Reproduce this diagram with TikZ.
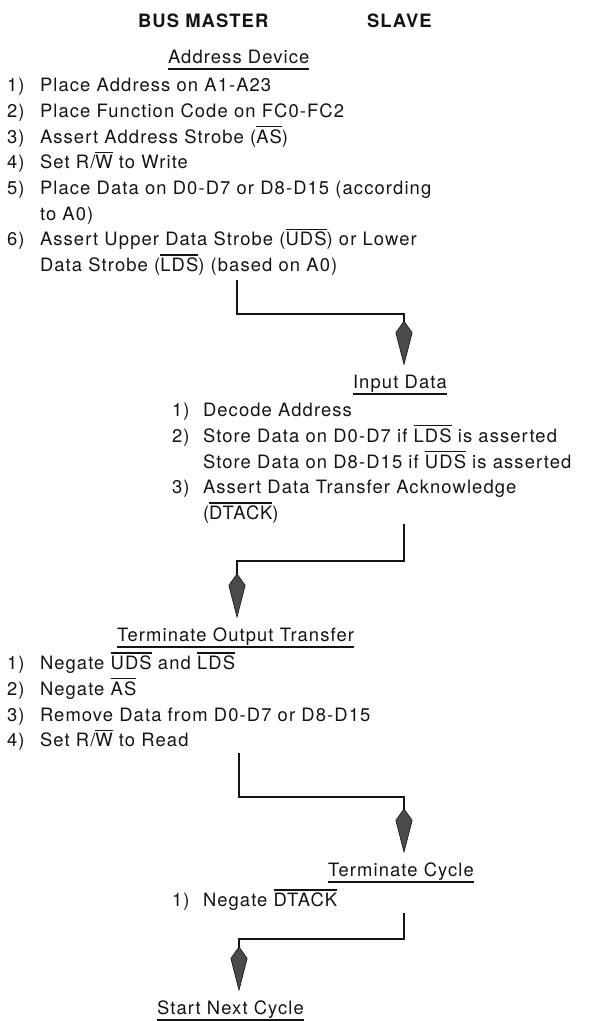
\documentclass[tikz,border=0pt]{standalone}
\usepackage{fontspec}
\setmainfont{TeX Gyre Heros}[LetterSpace=6]
\usetikzlibrary{arrows.meta}
\definecolor{ink}{HTML}{141414}
\definecolor{headfill}{HTML}{4A4A4A}
\newcommand{\ovb}[1]{\leavevmode\setbox0=\hbox{#1}\rlap{\rule[0.86em]{\wd0}{0.07em}}\box0\relax}
\begin{document}
\begin{tikzpicture}[x=1pt,y=-1pt,
  every node/.style={inner sep=0pt, outer sep=0pt, anchor=base west, text=ink,
    font=\fontsize{18.4}{25.7}\selectfont},
  title/.style={font=\fontsize{18.4}{25.7}\selectfont\bfseries},
  uline/.style={draw=ink, line width=1.3pt},
  flow/.style={draw=ink, line width=1.4pt, shorten >=9.5pt,
    -{Kite[length=45pt,width=17pt,inset=12pt,fill=headfill,line width=0.6pt]}},
]
\useasboundingbox (0,0) rectangle (591,1021);

% titles
\node[title] (bm) at (138,27.6) {BUS MASTER};
\node[title] (sl) at (367,27.6) {SLAVE};

% ---- Address Device
\node (h1) at (168,63.6) {Address Device};
\draw[uline] ([yshift=-5.5pt]h1.base west) -- ([yshift=-5.5pt]h1.base east);
\node (n11) at (7,91.6) {1)};   \node (t11) at (40,91.6) {Place Address on A1-A23};
\node (n12) at (7,117.3) {2)};  \node (t12) at (40,117.3) {Place Function Code on FC0-FC2};
\node (n13) at (7,143.0) {3)};  \node (t13) at (40,143.0) {Assert Address Strobe (\ovb{AS})};
\node (n14) at (7,168.7) {4)};  \node (t14) at (40,168.7) {Set R/\ovb{W} to Write};
\node (n15) at (7,194.4) {5)};  \node (t15) at (40,194.4) {Place Data on D0-D7 or D8-D15 (according};
\node (t15b) at (40,220.1) {to A0)};
\node (n16) at (7,245.8) {6)};  \node (t16) at (40,245.8) {Assert Upper Data Strobe (\ovb{UDS}) or Lower};
\node (t16b) at (40,271.5) {Data Strobe (\ovb{LDS}) (based on A0)};

% ---- Input Data
\node (h2) at (353,388.6) {Input Data};
\draw[uline] ([yshift=-5.5pt]h2.base west) -- ([yshift=-5.5pt]h2.base east);
\node (n21) at (172,416.6) {1)}; \node (t21) at (203,416.6) {Decode Address};
\node (n22) at (172,442.3) {2)}; \node (t22) at (203,442.3) {Store Data on D0-D7 if \ovb{LDS} is asserted};
\node (t22b) at (203,468.0) {Store Data on D8-D15 if \ovb{UDS} is asserted};
\node (n23) at (172,493.7) {3)}; \node (t23) at (203,493.7) {Assert Data Transfer Acknowledge};
\node (t23b) at (203,519.4) {(\ovb{DTACK})};

% ---- Terminate Output Transfer
\node (h3) at (117,641.6) {Terminate Output Transfer};
\draw[uline] ([yshift=-5.5pt]h3.base west) -- ([yshift=-5.5pt]h3.base east);
\node (n31) at (7,669.6) {1)}; \node (t31) at (40,669.6) {Negate \ovb{UDS} and \ovb{LDS}};
\node (n32) at (7,695.3) {2)}; \node (t32) at (40,695.3) {Negate \ovb{AS}};
\node (n33) at (7,721.0) {3)}; \node (t33) at (40,721.0) {Remove Data from D0-D7 or D8-D15};
\node (n34) at (7,746.7) {4)}; \node (t34) at (40,746.7) {Set R/\ovb{W} to Read};

% ---- Terminate Cycle
\node (h4) at (328,876.6) {Terminate Cycle};
\draw[uline] ([yshift=-5.5pt]h4.base west) -- ([yshift=-5.5pt]h4.base east);
\node (n41) at (172,906.6) {1)}; \node (t41) at (203,906.6) {Negate \ovb{DTACK}};

% ---- Start Next Cycle
\node (h5) at (157,1014.6) {Start Next Cycle};
\draw[uline] ([yshift=-5.5pt]h5.base west) -- ([yshift=-5.5pt]h5.base east);

% ---- connectors
\coordinate (s1) at (237,280);  \coordinate (b1) at (404,314);
\coordinate (s2) at (404,524);  \coordinate (b2) at (237,561);
\coordinate (s3) at (239,753);  \coordinate (b3) at (404,797);
\coordinate (s4) at (404,913);  \coordinate (b4) at (239,939);
\draw[flow] (s1) |- (b1) -- (b1 |- h2.north);
\draw[flow] (s2) |- (b2) -- (b2 |- h3.north);
\draw[flow] (s3) |- (b3) -- (b3 |- h4.north);
\draw[flow] (s4) |- (b4) -- (b4 |- h5.north);
\end{tikzpicture}
\end{document}
